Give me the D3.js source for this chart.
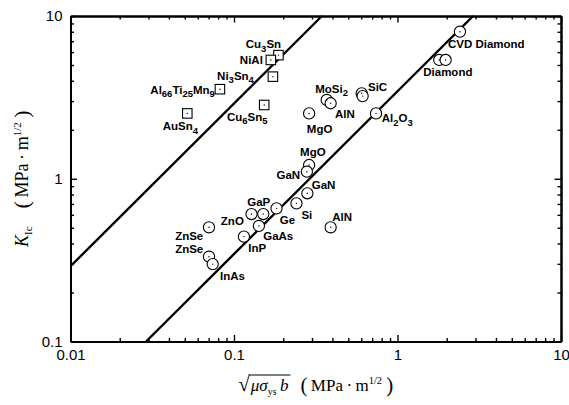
<!DOCTYPE html>
<html>
<head>
<meta charset="utf-8">
<script src="https://cdn.jsdelivr.net/npm/d3@7"></script>
<style>
  body { margin: 0; background: #fff; }
  svg { display: block; }
  .lbl, .tick text { font-family: "Liberation Sans", Arial, sans-serif; fill: #000; }
  .ttl { font-family: "Liberation Serif", "Times New Roman", serif; fill: #000; }
</style>
</head>
<body>
<svg width="569" height="405"></svg>
<script>
// ---- data ----
const squareNames = ["Cu_3Sn", "NiAl", "Ni_3Sn_4", "Al_66Ti_25Mn_9", "AuSn_4", "Cu_6Sn_5"];
const squareX = [0.187, 0.168, 0.173, 0.082, 0.0518, 0.153];
const squareY = [5.75, 5.37, 4.24, 3.55, 2.52, 2.84];

const circleNames = ["CVD Diamond", "Diamond", null, "MoSi_2", "AlN", "SiC", null, "MgO", "Al_2O_3",
  "MgO", "GaN", "GaN", "Si", "Ge", "GaP", "ZnO", "GaAs", "InP", "ZnSe", "ZnSe", "InAs", "AlN"];
const circleX = [2.41, 1.8, 1.97, 0.369, 0.39, 0.604, 0.612, 0.288, 0.739,
  0.288, 0.279, 0.281, 0.241, 0.182, 0.151, 0.128, 0.142, 0.115, 0.0703, 0.0703, 0.0741, 0.39];
const circleY = [8.01, 5.37, 5.37, 3.05, 2.91, 3.35, 3.22, 2.52, 2.52,
  1.215, 1.105, 0.814, 0.706, 0.658, 0.607, 0.607, 0.513, 0.441, 0.503, 0.332, 0.299, 0.503];

// two fitted lines (end points)
const upperLineX = [0.01, 0.345];
const upperLineY = [0.29, 10];
const lowerLineX = [0.029, 2.9];
const lowerLineY = [0.1, 10];

const xTickValues = [0.01, 0.1, 1, 10];
const xTickLabels = ["0.01", "0.1", "1", "10"];
const yTickValues = [0.1, 1, 10];
const yTickLabels = ["0.1", "1", "10"];

// ---- label placement (pixel offsets from the marker) ----
const squareLabelPos = [
  {dx: -15, dy: -7, anchor: "middle"},
  {dx: -8, dy: 4, anchor: "end"},
  {dx: -19, dy: 3, anchor: "end"},
  {dx: -5, dy: 4.5, anchor: "end"},
  {dx: -7, dy: 17, anchor: "middle"},
  {dx: -17, dy: 16, anchor: "middle"}
];
const circleLabelPos = [
  {dx: -12, dy: 16, anchor: "start"},
  {dx: -16, dy: 16.5, anchor: "start"},
  null,
  {dx: -11.5, dy: -7, anchor: "start"},
  {dx: 4.3, dy: 14.7, anchor: "start"},
  {dx: 6.3, dy: -2.3, anchor: "start"},
  null,
  {dx: -2.3, dy: 19.7, anchor: "start"},
  {dx: 5.7, dy: 9, anchor: "start"},
  {dx: -9, dy: -9, anchor: "start"},
  {dx: -6.7, dy: 7.8, anchor: "end"},
  {dx: 4.4, dy: -3.8, anchor: "start"},
  {dx: 5, dy: 16, anchor: "start"},
  {dx: 3.3, dy: 15.5, anchor: "start"},
  {dx: -16, dy: -8.5, anchor: "start"},
  {dx: -7.7, dy: 10.5, anchor: "end"},
  {dx: 4.3, dy: 14, anchor: "start"},
  {dx: 4.3, dy: 15.3, anchor: "start"},
  {dx: -5.7, dy: 12.2, anchor: "end"},
  {dx: -5.7, dy: -3.9, anchor: "end"},
  {dx: 7.3, dy: 15.5, anchor: "start"},
  {dx: 1.6, dy: -6.8, anchor: "start"}
];

const svg = d3.select("svg");
const plotLeft = 70.5, plotRight = 561, plotTop = 16, plotBottom = 341.5;

const x = d3.scaleLog().domain([0.01, 10]).range([plotLeft, plotRight]);
const y = d3.scaleLog().domain([0.1, 10]).range([plotBottom, plotTop]);

// ---- axes, ticks on all four sides pointing inward ----
const xMinor = x.ticks().filter((v) => !xTickValues.some((t) => Math.abs(t - v) < 1e-9));
const yMinor = y.ticks().filter((v) => !yTickValues.some((t) => Math.abs(t - v) < 1e-9));

function styleAxis(g) {
  g.selectAll(".domain").attr("stroke", "#000").attr("stroke-width", 2);
  g.selectAll(".tick line").attr("stroke", "#000").attr("stroke-width", 1.4);
  g.selectAll(".tick text").style("font-size", "15px");
}

const axes = [
  {fn: d3.axisBottom, scale: x, tr: `translate(0,${plotBottom})`, major: xTickValues, minor: xMinor, labels: xTickLabels, pad: 8},
  {fn: d3.axisTop, scale: x, tr: `translate(0,${plotTop})`, major: xTickValues, minor: xMinor, labels: null, pad: 5},
  {fn: d3.axisLeft, scale: y, tr: `translate(${plotLeft},0)`, major: yTickValues, minor: yMinor, labels: yTickLabels, pad: 8},
  {fn: d3.axisRight, scale: y, tr: `translate(${plotRight},0)`, major: yTickValues, minor: yMinor, labels: null, pad: 5}
];

axes.forEach((a) => {
  svg.append("g")
    .attr("transform", a.tr)
    .call(a.fn(a.scale).tickValues(a.minor).tickSize(-3.5).tickSizeOuter(0).tickFormat(""))
    .call(styleAxis);
  svg.append("g")
    .attr("transform", a.tr)
    .call(a.fn(a.scale).tickValues(a.major).tickSize(-6.5).tickSizeOuter(0).tickPadding(a.pad)
      .tickFormat((d, i) => (a.labels ? a.labels[i] : "")))
    .call(styleAxis);
});

// ---- fitted lines ----
const line = d3.line().x((d) => x(d[0])).y((d) => y(d[1]));
[[upperLineX, upperLineY], [lowerLineX, lowerLineY]].forEach(([lx, ly]) => {
  svg.append("path")
    .attr("d", line(lx.map((v, i) => [v, ly[i]])))
    .attr("fill", "none")
    .attr("stroke", "#000")
    .attr("stroke-width", 2.4);
});

// ---- markers ----
const squares = squareX.map((v, i) => ({x: v, y: squareY[i], name: squareNames[i], pos: squareLabelPos[i]}));
const circles = circleX.map((v, i) => ({x: v, y: circleY[i], name: circleNames[i], pos: circleLabelPos[i]}));

const s = 9.5;
svg.append("g").selectAll("rect")
  .data(squares)
  .join("rect")
  .attr("x", (d) => x(d.x) - s / 2)
  .attr("y", (d) => y(d.y) - s / 2)
  .attr("width", s)
  .attr("height", s)
  .attr("fill", "#fff")
  .attr("stroke", "#000")
  .attr("stroke-width", 1.1);

svg.append("g").selectAll("circle")
  .data(circles)
  .join("circle")
  .attr("cx", (d) => x(d.x))
  .attr("cy", (d) => y(d.y))
  .attr("r", 5.6)
  .attr("fill", "#fff")
  .attr("stroke", "#000")
  .attr("stroke-width", 1.1);

// little dot in each marker
svg.append("g").selectAll("circle")
  .data(squares.concat(circles))
  .join("circle")
  .attr("cx", (d) => x(d.x))
  .attr("cy", (d) => y(d.y))
  .attr("r", 0.7)
  .attr("fill", "#000");

// ---- labels with subscripts ----
function addLabel(d) {
  if (!d.name) return;
  const t = svg.append("text")
    .attr("class", "lbl")
    .attr("x", x(d.x) + d.pos.dx)
    .attr("y", y(d.y) + d.pos.dy)
    .attr("text-anchor", d.pos.anchor)
    .style("font-size", "11.5px")
    .style("font-weight", "bold");
  const parts = d.name.split(/_(\d+)/);
  let sub = false;
  parts.forEach((p, i) => {
    if (p === "") return;
    if (i % 2 === 1) {
      t.append("tspan").attr("dy", 3.5).style("font-size", "9.5px").text(p);
      sub = true;
    } else {
      t.append("tspan").attr("dy", sub ? -3.5 : 0).text(p);
      sub = false;
    }
  });
}
squares.forEach(addLabel);
circles.forEach(addLabel);

// ---- y axis title ----
const yt = svg.append("text")
  .attr("class", "ttl")
  .attr("transform", `translate(28,${(plotTop + plotBottom) / 2}) rotate(-90)`)
  .attr("text-anchor", "middle")
  .style("font-size", "18px");
yt.append("tspan").style("font-style", "italic").text("K");
yt.append("tspan").attr("dy", 4).style("font-size", "11px").text("Ic");
yt.append("tspan").attr("dy", -4).text("\u2002\u2002");
yt.append("tspan").attr("dy", 1).style("font-size", "22px").text("(");
yt.append("tspan").attr("dy", -1).text("\u2009MPa\u2009\u00b7\u2009m");
yt.append("tspan").attr("dy", -7).style("font-size", "11px").text("1/2");
yt.append("tspan").attr("dy", 8).style("font-size", "22px").text("\u2009)");

// ---- x axis title: sqrt(mu sigma_ys b) (MPa m^1/2) ----
const xt = svg.append("g");
const base = 391;
const rad = xt.append("text").attr("class", "ttl").attr("y", base).style("font-size", "21px").text("\u221a");
const arg = xt.append("text").attr("class", "ttl").attr("y", base).style("font-size", "17px");
arg.append("tspan").style("font-style", "italic").text("\u03bc\u03c3");
arg.append("tspan").attr("dy", 4).style("font-size", "10px").text("ys");
arg.append("tspan").attr("dy", -4).style("font-style", "italic").text("\u2009b");
const unit = xt.append("text").attr("class", "ttl").attr("y", base).style("font-size", "17px");
unit.append("tspan").attr("dy", 1).style("font-size", "21px").text("(");
unit.append("tspan").attr("dy", -1).text("\u2009MPa\u2009\u00b7\u2009m");
unit.append("tspan").attr("dy", -7).style("font-size", "10.5px").text("1/2");
unit.append("tspan").attr("dy", 8).style("font-size", "21px").text("\u2009)");

const wRad = rad.node().getComputedTextLength();
const wArg = arg.node().getComputedTextLength();
const wUnit = unit.node().getComputedTextLength();
const gap = 13;
const total = wRad + wArg + gap + wUnit;
const x0 = (plotLeft + plotRight) / 2 - total / 2;
rad.attr("x", x0);
arg.attr("x", x0 + wRad + 1);
unit.attr("x", x0 + wRad + wArg + gap);
xt.append("line")
  .attr("x1", x0 + wRad - 1).attr("x2", x0 + wRad + wArg + 3)
  .attr("y1", base - 16).attr("y2", base - 16)
  .attr("stroke", "#000").attr("stroke-width", 1);
</script>
</body>
</html>
